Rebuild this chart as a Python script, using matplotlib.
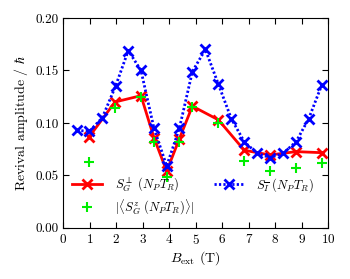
import matplotlib
matplotlib.use("Agg")
import matplotlib.pyplot as plt
import numpy as np

plt.rcParams['font.family'] = 'serif'
plt.rcParams['font.serif'] = ['cmr10']
plt.rcParams['mathtext.fontset'] = 'cm'
plt.rcParams['axes.formatter.use_mathtext'] = True

# blue: S_Ibar, every half step
b_blue = [0.51, 0.98, 1.47, 1.97, 2.45, 2.93, 3.42, 3.90, 4.38, 4.87,
          5.36, 5.85, 6.34, 6.83, 7.32, 7.80, 8.29, 8.78, 9.26, 9.75]
s_blue = [0.093, 0.092, 0.105, 0.135, 0.169, 0.150, 0.095, 0.059, 0.095, 0.149,
          0.170, 0.137, 0.104, 0.082, 0.071, 0.067, 0.071, 0.082, 0.104, 0.136]

# red and green share the same fields
b_red = [0.98, 1.95, 2.93, 3.42, 3.90, 4.38, 4.87, 5.85, 6.83, 7.80, 8.78, 9.75]
s_perp = [0.087, 0.120, 0.126, 0.086, 0.054, 0.085, 0.116, 0.103, 0.074, 0.0695, 0.0727, 0.0717]
s_z = [0.0626, 0.114, 0.125, 0.082, 0.049, 0.082, 0.1155, 0.0997, 0.064, 0.0546, 0.0574, 0.0622]

fig = plt.figure(figsize=(3.5, 2.79), dpi=100)
ax = fig.add_axes([0.181, 0.183, 0.757, 0.7525])

l_red, = ax.plot(b_red, s_perp, color='#ff0000', lw=2, marker='x', ms=7, mew=2,
                 label=r'$S^{\perp}_{G}\ (N_P T_R)$')
l_green, = ax.plot(b_red, s_z, color='#00ee00', ls='none', marker='+', ms=7.5, mew=1.5,
                   label=r'$|\langle S^{z}_{G}\ (N_P T_R)\rangle|$')
l_blue, = ax.plot(b_blue, s_blue, color='#0000ff', lw=2, ls=(0, (0.8, 0.8)), marker='x', ms=7, mew=2,
                  label=r'$S_{\overline{I}}\ (N_P T_R)$')

ax.set_xlim(0, 10)
ax.set_ylim(0, 0.2)
ax.set_xticks(np.arange(0, 11, 1))
ax.set_yticks([0.0, 0.05, 0.10, 0.15, 0.20])
ax.set_yticklabels(['0.00', '0.05', '0.10', '0.15', '0.20'])
ax.tick_params(direction='in', top=True, right=True, labelsize=9.5, length=4)
ax.set_xlabel(r'$B_{\mathrm{ext}}$ (T)', fontsize=10, labelpad=2)
ax.set_ylabel(r'Revival amplitude / $\hbar$', fontsize=10)

ax.legend(handles=[l_red, l_green, l_blue], ncol=2, loc='lower left', frameon=False,
          fontsize=9, handlelength=2.4, handletextpad=1.0, columnspacing=1.6,
          labelspacing=0.3, borderaxespad=0.3, bbox_to_anchor=(0.0, 0.01))

fig.savefig('out.png', dpi=100)
